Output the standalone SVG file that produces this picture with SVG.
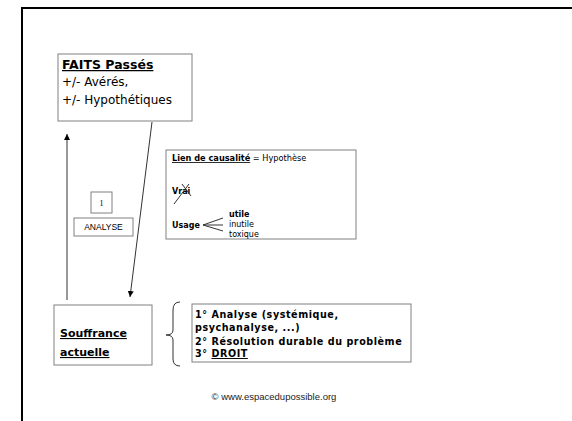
<svg xmlns="http://www.w3.org/2000/svg" width="572" height="421" viewBox="0 0 572 421">
<defs>
<style>
.box{fill:#fff;stroke:#808080;stroke-width:1}
.ln{stroke:#333;stroke-width:1;fill:none}
.c{font-family:"Comic Sans MS","DejaVu Sans",sans-serif;fill:#000}
.b{font-weight:bold}
.u{text-decoration:underline}
</style>
<marker id="ah" markerWidth="8" markerHeight="8" refX="6" refY="3" orient="auto" markerUnits="userSpaceOnUse">
<path d="M0,0 L6,3 L0,6 Z" fill="#000"/>
</marker>
</defs>
<rect width="572" height="421" fill="#fff"/>
<path d="M22,421 V8 H572" fill="none" stroke="#000" stroke-width="2"/>

<g id="connectors">
<line class="ln" x1="67" y1="300" x2="67" y2="134" marker-end="url(#ah)"/>
<line class="ln" x1="152" y1="122" x2="130" y2="297" marker-end="url(#ah)"/>
<path class="ln" d="M180,302 Q173,302 173,310 V330 Q173,335 166,335 Q173,335 173,340 V359 Q173,366 180,366"/>
</g>

<g id="faits">
<rect class="box" x="58" y="54" width="134" height="67"/>
<text class="c b u" x="62" y="69" font-size="12.5">FAITS Passés</text>
<text class="c" x="62" y="86" font-size="12">+/- Avérés,</text>
<text class="c" x="62" y="104" font-size="12">+/- Hypothétiques</text>
</g>

<g id="num1">
<rect class="box" x="91" y="192" width="21" height="21"/>
<text x="101.5" y="206" font-family="Liberation Serif,serif" font-size="8" text-anchor="middle">1</text>
</g>

<g id="analyse">
<rect class="box" x="74" y="218" width="59" height="18"/>
<text x="103.5" y="230" font-family="Liberation Sans,Arial,sans-serif" font-size="8.5" text-anchor="middle">ANALYSE</text>
</g>

<g id="lien">
<rect class="box" x="166" y="150" width="190" height="89"/>
<text class="c" x="172" y="161" font-size="8.2"><tspan class="b u">Lien de causalité</tspan> = Hypothèse</text>
<text class="c b" x="172" y="194" font-size="8">Vrai</text>
<line class="ln" x1="174" y1="204" x2="189" y2="184" stroke-width="0.8"/>
<line class="ln" x1="182" y1="184" x2="191" y2="196" stroke-width="0.8"/>
<text class="c b" x="172" y="228" font-size="8">Usage</text>
<line class="ln" x1="203" y1="225" x2="223" y2="218" stroke-width="0.6"/>
<line class="ln" x1="203" y1="225" x2="223" y2="225" stroke-width="0.6"/>
<line class="ln" x1="203" y1="225" x2="223" y2="231" stroke-width="0.6"/>
<text class="c b" x="229" y="217" font-size="8">utile</text>
<text class="c" x="229" y="227" font-size="8">inutile</text>
<text class="c" x="229" y="237" font-size="8">toxique</text>
</g>

<g id="souffrance">
<rect class="box" x="54" y="305" width="98" height="60"/>
<text class="c b u" x="60" y="337" font-size="11">Souffrance</text>
<text class="c b u" x="60" y="356" font-size="11">actuelle</text>
</g>

<g id="liste">
<rect class="box" x="192" y="304" width="219" height="58"/>
<text class="c b" x="195" y="318" font-size="9.6" letter-spacing="0.55">1° Analyse (systémique,</text>
<text class="c b" x="195" y="331" font-size="9.6" letter-spacing="0.55">psychanalyse, ...)</text>
<text class="c b" x="195" y="345" font-size="9.6" letter-spacing="0.55">2° Résolution durable du problème</text>
<text class="c b" x="195" y="357" font-size="9.6" letter-spacing="0.55">3° <tspan class="u">DROIT</tspan></text>
</g>

<text x="274" y="400" font-family="Liberation Sans,Arial,sans-serif" font-size="9.5" text-anchor="middle" fill="#222">© www.espacedupossible.org</text>
</svg>
